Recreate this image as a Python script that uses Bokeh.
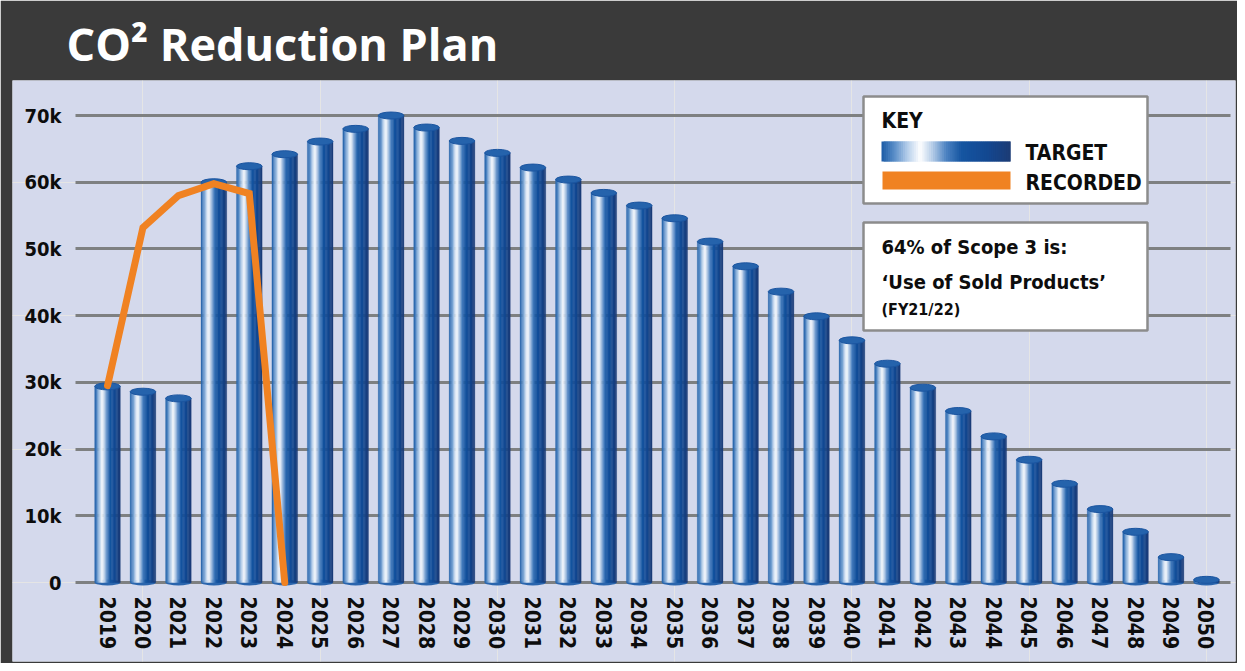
from bokeh.plotting import figure
from bokeh.models import FixedTicker, LinearAxis, Range1d, Grid, ColumnDataSource
from bokeh.transform import dodge
from bokeh.core.properties import value
from bokeh.embed import file_html
from bokeh.resources import INLINE

# ---------------- data ----------------
years = list(range(2019, 2051))
target = [29400, 28600, 27600, 60000, 62400, 64200, 66100, 68000, 70000, 68200,
          66200, 64400, 62200, 60400, 58400, 56500, 54600, 51100, 47400, 43600,
          39900, 36300, 32800, 29200, 25700, 21900, 18400, 14800, 11000, 7600,
          3800, 400]
recorded_years = [2019, 2020, 2021, 2022, 2023, 2024]
recorded = [29500, 53200, 58000, 59800, 58300, 0]
y_ticks = [0, 10000, 20000, 30000, 40000, 50000, 60000, 70000]
y_tick_labels = ["0", "10k", "20k", "30k", "40k", "50k", "60k", "70k"]
title_text = "CO² Reduction Plan"
key_title = "KEY"
key_labels = ["TARGET", "RECORDED"]
note_lines = ["64% of Scope 3 is:", "‘Use of Sold Products’"]
note_small = "(FY21/22)"

# ---------------- styling / layout ----------------
W, H = 1237, 663
MB_L, MB_R, MB_T, MB_B = 12, 2, 80, 2
DARK = "#3a3a3a"
LAVENDER = "#d4d9ec"
ORANGE = "#f08222"
TEXT = "#0d0d0d"
FONT = "DejaVu Sans Condensed"
BAR_W = 0.72
N_STRIPS = 20
STOPS = [(0.0, "#1b5ba6"), (0.10, "#5a8ec8"), (0.20, "#b4cdea"), (0.30, "#ffffff"),
         (0.40, "#b0c9e6"), (0.50, "#4e83c2"), (0.62, "#1555a1"), (0.82, "#134891"),
         (1.0, "#1c3b75")]

# canvas-pixel -> data helpers
PX0, PXS = 107.0, 35.45     # x pixel of first year, pixels per year
PY0, PYS = 582.0, 6.671     # y pixel of zero, pixels per 1000


def dx(px):
    return years[0] + (px - PX0) / PXS


def dy(py):
    return (PY0 - py) / PYS * 1000.0


def hex2rgb(h):
    h = h.lstrip("#")
    return tuple(int(h[i:i + 2], 16) for i in (0, 2, 4))


def grad(t):
    for (t0, c0), (t1, c1) in zip(STOPS[:-1], STOPS[1:]):
        if t0 <= t <= t1:
            f = (t - t0) / (t1 - t0) if t1 > t0 else 0
            a, b = hex2rgb(c0), hex2rgb(c1)
            return "#%02x%02x%02x" % tuple(round(a[i] + (b[i] - a[i]) * f) for i in range(3))
    return STOPS[-1][1]


x_range = Range1d(dx(MB_L), dx(W - MB_R))
y_range = Range1d(dy(H - MB_B), dy(MB_T))

p = figure(width=W, height=H, x_range=x_range, y_range=y_range,
           output_backend="svg", toolbar_location=None,
           x_axis_location=None, y_axis_location=None,
           min_border_left=MB_L, min_border_right=MB_R,
           min_border_top=MB_T, min_border_bottom=MB_B)
p.border_fill_color = DARK
p.background_fill_color = LAVENDER
p.outline_line_color = None

p.title.text = title_text
p.title.text_font = "Open Sans"
p.title.text_font_style = "bold"
p.title.text_font_size = "45px"
p.title.text_color = "white"
p.title.align = "left"
p.title.offset = 54
p.title.standoff = 14

# grid
grid = Grid(dimension=1, ticker=FixedTicker(ticks=y_ticks),
            grid_line_color="#7e8081", grid_line_width=3)
if "cross_bounds" in Grid.properties():
    grid.cross_bounds = (dx(75), dx(1230))
p.add_layout(grid)

# axes at fixed locations inside the frame
yaxis = LinearAxis(fixed_location=dx(70), ticker=FixedTicker(ticks=y_ticks),
                   major_label_overrides={t: l for t, l in zip(y_ticks, y_tick_labels)})
yaxis.axis_line_color = None
yaxis.major_tick_line_color = None
yaxis.minor_tick_line_color = None
yaxis.major_label_standoff = 3
yaxis.major_label_text_font = FONT
yaxis.major_label_text_font_style = "bold"
yaxis.major_label_text_font_size = "20px"
yaxis.major_label_text_color = TEXT
p.add_layout(yaxis, "left")

xaxis = LinearAxis(fixed_location=0, ticker=FixedTicker(ticks=years),
                   major_label_overrides={y: str(y) for y in years})
xaxis.axis_line_color = None
xaxis.major_tick_line_color = None
xaxis.minor_tick_line_color = None
xaxis.major_label_orientation = "vertical"
xaxis.major_label_standoff = 8
xaxis.major_label_text_font = FONT
xaxis.major_label_text_font_style = "bold"
xaxis.major_label_text_font_size = "21px"
xaxis.major_label_text_color = TEXT
p.add_layout(xaxis, "below")

# target bars: cylinders built from vertical gradient strips
src = ColumnDataSource(dict(year=years, target=target))
p.ellipse(x="year", y=0, width=BAR_W, height=6, height_units="screen",
          source=src, fill_color="#2a65ad", line_color=None)
for k in range(N_STRIPS):
    t = (k + 0.5) / N_STRIPS
    c = grad(t)
    off = -BAR_W / 2 + t * BAR_W
    p.vbar(x=dodge("year", off, range=p.x_range), top="target", bottom=0,
           width=BAR_W / N_STRIPS * 1.1, source=src,
           fill_color=c, line_color=c, line_width=0.3)
p.ellipse(x="year", y="target", width=BAR_W, height=7, height_units="screen",
          source=src, fill_color="#2563ac", line_color="#1b55a0", line_width=1)

# recorded line
p.line(recorded_years, recorded, line_color=ORANGE, line_width=7,
       line_cap="round", line_join="miter")

# key box
p.quad(left=[dx(863)], right=[dx(1147)], top=[dy(96)], bottom=[dy(203)],
       fill_color="white", line_color="#8c8c8c", line_width=2.5)
p.text(x=[dx(881)], y=[dy(120)], text=[key_title], text_font=value(FONT),
       text_font_style="bold", text_font_size="21px", text_color=TEXT,
       text_baseline="middle")
NG = 60
step = (dx(1010) - dx(881)) / NG
gl = [dx(881) + step * i for i in range(NG)]
gr = [dx(881) + step * min(i + 2, NG) for i in range(NG)]
gc = [grad((i + 0.5) / NG) for i in range(NG)]
p.quad(left=gl, right=gr, top=dy(141), bottom=dy(161), fill_color=gc, line_color=None)
p.quad(left=[dx(882)], right=[dx(1010)], top=[dy(171)], bottom=[dy(189)],
       fill_color=ORANGE, line_color=None)
p.text(x=[dx(1025), dx(1025)], y=[dy(152), dy(182)], text=key_labels,
       text_font=value(FONT), text_font_style="bold", text_font_size="21px",
       text_color=TEXT, text_baseline="middle")

# note box
p.quad(left=[dx(863)], right=[dx(1147)], top=[dy(222)], bottom=[dy(330)],
       fill_color="white", line_color="#8c8c8c", line_width=2.5)
p.text(x=[dx(881), dx(881)], y=[dy(246), dy(281)], text=note_lines,
       text_font=value(FONT), text_font_style="bold", text_font_size="20px",
       text_color=TEXT, text_baseline="middle")
p.text(x=[dx(881)], y=[dy(309)], text=[note_small],
       text_font=value(FONT), text_font_style="bold", text_font_size="16px",
       text_color=TEXT, text_baseline="middle")

open("out.html", "w").write(file_html(p, INLINE))
